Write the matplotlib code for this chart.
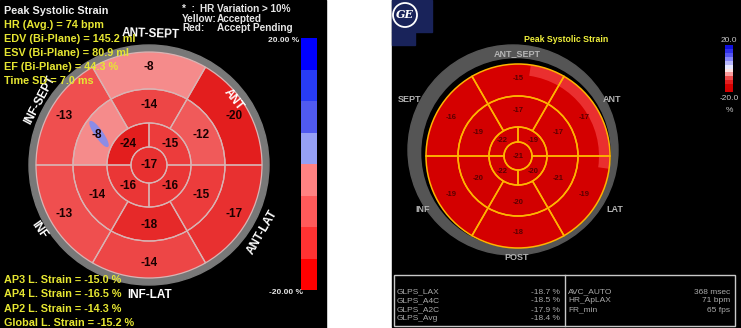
import numpy as np
import matplotlib
matplotlib.use("Agg")
import matplotlib.pyplot as plt
from matplotlib.patches import Wedge, Circle, Rectangle, Ellipse
from matplotlib.colors import LinearSegmentedColormap, ListedColormap, BoundaryNorm, Normalize

plt.rcParams["font.family"] = ["Liberation Sans", "DejaVu Sans"]

# ---- left screen (17-segment bullseye) ----
left_apex = -17
left_apical = [-15, -16, -16, -24]            # upper right, lower right, lower left, upper left
left_mid = [-14, -12, -15, -18, -14, -8]      # top, upper right, lower right, bottom, lower left, upper left
left_basal = [-8, -20, -17, -14, -13, -13]
left_walls = ["ANT-SEPT", "ANT", "ANT-LAT", "INF-LAT", "INF", "INF-SEPT"]
left_title = "Peak Systolic Strain"
left_info = ["HR (Avg.) = 74 bpm", "EDV (Bi-Plane) = 145.2 ml", "ESV (Bi-Plane) = 80.9 ml",
             "EF (Bi-Plane) = 44.3 %", "Time SD = 7.0 ms"]
left_strain = ["AP3 L. Strain = -15.0 %", "AP4 L. Strain = -16.5 %",
               "AP2 L. Strain = -14.3 %", "Global L. Strain = -15.2 %"]
left_legend_keys = ["*  :", "Yellow:", "Red:"]
left_legend_vals = ["HR Variation > 10%", "Accepted", "Accept Pending"]
left_cbar_colors = ["#ff0000", "#ff3232", "#ff5a5a", "#ff8282",
                    "#96a0f5", "#505af0", "#283cf5", "#0000ff"]
cbar_range = [-20, 20]

# ---- right screen (GE) ----
right_apex = -21
right_apical = [-19, -20, -22, -22]
right_mid = [-17, -17, -21, -20, -20, -19]
right_basal = [-15, -17, -19, -18, -19, -16]
right_walls = ["ANT_SEPT", "ANT", "LAT", "POST", "INF", "SEPT"]
right_table_left = [("GLPS_LAX", "-18.7 %"), ("GLPS_A4C", "-18.5 %"),
                    ("GLPS_A2C", "-17.9 %"), ("GLPS_Avg", "-18.4 %")]
right_table_right = [("AVC_AUTO", "368 msec"), ("HR_ApLAX", "71 bpm"), ("FR_min", "65 fps")]

SIX = [90, 30, -30, -90, -150, 150]
FOUR = [45, -45, -135, 135]


def pt(c, r, ang):
    a = np.deg2rad(ang)
    return c[0] + r * np.cos(a), c[1] - r * np.sin(a)


def wedge(c, r, w, a0, a1, **kw):
    # y axis is flipped, so screen angles are mirrored
    return Wedge(c, r, -a1, -a0, width=w, **kw)


def bullseye(ax, c, radii, apex, apical, mid, basal, cmap, norm, edge, lw,
             label_r, fs, tcolor, weight):
    r0, r1, r2, r3 = radii
    segs = [(Circle(c, r0), apex, c)]
    for v, a in zip(apical, FOUR):
        segs.append((wedge(c, r1, r1 - r0, a - 45, a + 45), v, pt(c, label_r[0], a)))
    for v, a in zip(mid, SIX):
        segs.append((wedge(c, r2, r2 - r1, a - 30, a + 30), v, pt(c, label_r[1], a)))
    for v, a in zip(basal, SIX):
        segs.append((wedge(c, r3, r3 - r2, a - 30, a + 30), v, pt(c, label_r[2], a)))
    for p, v, xy in segs:
        p.set_facecolor(cmap(norm(v)))
        p.set_edgecolor("none")
        p.set_zorder(3)
        ax.add_patch(p)
    outlines = [Circle(c, r0)]
    outlines += [wedge(c, r1, r1 - r0, a - 45, a + 45) for a in FOUR]
    outlines += [wedge(c, r, r - rr, a - 30, a + 30) for a in SIX for r, rr in ((r2, r1), (r3, r2))]
    for p in outlines:
        p.set_facecolor("none")
        p.set_edgecolor(edge)
        p.set_linewidth(lw)
        p.set_zorder(5)
        ax.add_patch(p)
    for p, v, xy in segs:
        ax.text(xy[0], xy[1], f"{v}", ha="center", va="center", fontsize=fs,
                color=tcolor, fontweight=weight, zorder=6)


fig = plt.figure(figsize=(7.41, 3.28), dpi=100)
ax = fig.add_axes([0, 0, 1, 1])
ax.set_xlim(0, 741)
ax.set_ylim(328, 0)
ax.axis("off")

ax.add_patch(Rectangle((0, 0), 326, 328, color="black", zorder=0))
ax.add_patch(Rectangle((392, 0), 349, 327, color="black", zorder=0))

# left bullseye
lc = (149, 165)
left_norm = Normalize(*cbar_range)
map_cmap = LinearSegmentedColormap.from_list(
    "strainmap", [(0, "#e31e1e"), (0.125, "#ec3c3c"), (0.2, "#f05a5a"), (0.3, "#f58c8c"),
                  (0.5, "#ffc8c8"), (0.75, "#8c8cf0"), (1, "#0000ff")])
ax.add_patch(Circle(lc, 120, color="#787878", zorder=2))
bullseye(ax, lc, (18, 42, 76, 113), left_apex, left_apical, left_mid, left_basal,
         map_cmap, left_norm, "#d9b4b4", 0.9, (30, 60, 98), 8.5, "#1a0000", "bold")
ax.add_patch(Ellipse((99, 134), 7, 30, angle=-35, color="#8c8ce6", zorder=4))

wall_pos = [(151, 34, -2), (233, 100, -52), (262, 232, 60), (150, 295, 0), (39, 230, -55), (40, 100, 62)]
for name, (x, y, rot) in zip(left_walls, wall_pos):
    ax.text(x, y, name, ha="center", va="center", rotation=rot, fontsize=8.5,
            color="white", fontweight="bold", zorder=7)

ax.text(4, 11, left_title, fontsize=7.8, color="#eeeeee", fontweight="bold", va="center", zorder=8)
for i, s in enumerate(left_info):
    ax.text(4, 25 + 14 * i, s, fontsize=7.8, color="#e6e632", fontweight="bold", va="center", zorder=8)
for i, s in enumerate(left_strain):
    ax.text(4, 280 + 14.3 * i, s, fontsize=7.8, color="#e6e632", fontweight="bold", va="center", zorder=8)
for i, (k, v) in enumerate(zip(left_legend_keys, left_legend_vals)):
    ax.text(182, 9 + 9.5 * i, k, fontsize=7.2, color="#e6e6e6", fontweight="bold", va="center", zorder=8)
    ax.text(200 if i == 0 else 217, 9 + 9.5 * i, v, fontsize=7.2, color="#e6e6e6",
            fontweight="bold", va="center", zorder=8)

# left colour bar
levels = np.linspace(cbar_range[0], cbar_range[1], len(left_cbar_colors) + 1)
bar_cmap = ListedColormap(left_cbar_colors)
bar_norm = BoundaryNorm(levels, bar_cmap.N)
yb = np.linspace(290, 38, len(levels))
ax.pcolormesh([301, 317], yb, levels[:-1].reshape(-1, 1) + 1, cmap=bar_cmap, norm=bar_norm, zorder=3)
ax.text(299, 41, f"{cbar_range[1]:.2f} %", ha="right", va="center", fontsize=6,
        color="#e6e6e6", fontweight="bold")
ax.text(303, 293, f"{cbar_range[0]:.2f} %", ha="right", va="center", fontsize=6,
        color="#e6e6e6", fontweight="bold")

# right bullseye
rc = (518, 156)
right_cmap = LinearSegmentedColormap.from_list(
    "ge", [(0, "#d20000"), (0.15, "#d70000"), (0.3, "#f05050"), (0.42, "#ffc8c8"),
           (0.5, "#ffffff"), (0.6, "#c8c8ff"), (0.8, "#5050f0"), (1, "#0000dc")])
ax.add_patch(Circle((513, 150), 105, color="#555555", zorder=1))
ax.add_patch(Circle((516, 153), 94, color="black", zorder=1))
bullseye(ax, rc, (14, 29, 60, 92), right_apex, right_apical, right_mid, right_basal,
         right_cmap, left_norm, "#ffb400", 1.1, (22, 46, 77), 5.5, "#5a0000", "bold")
ax.add_patch(wedge(rc, 92, 11, -8, 82, color="#f03c3c", alpha=0.8, zorder=4, lw=0))

rwall_pos = [(517, 54), (612, 100), (615, 210), (517, 257), (423, 210), (410, 100)]
for name, (x, y) in zip(right_walls, rwall_pos):
    ax.text(x, y, name, ha="center", va="center", fontsize=6.5, color="#b4b4b4",
            fontweight="bold", zorder=7)
ax.text(566, 40, "Peak Systolic Strain", ha="center", va="center", fontsize=6.3,
        color="#f0f03c", fontweight="bold")

# right colour bar
rl = np.linspace(cbar_range[0], cbar_range[1], 13)
ax.pcolormesh([725, 733], np.linspace(92, 45, 13), ((rl[:-1] + rl[1:]) / 2).reshape(-1, 1),
              cmap=right_cmap, norm=left_norm, zorder=3)
ax.text(729, 40, f"{cbar_range[1]:.1f}", ha="center", va="center", fontsize=6, color="#c8c8c8")
ax.text(729, 99, f"{cbar_range[0]:.1f}", ha="center", va="center", fontsize=6, color="#c8c8c8")
ax.text(729, 110, "%", ha="center", va="center", fontsize=6, color="#c8c8c8")

# GE logo
ax.add_patch(Rectangle((392, 0), 40, 32, color="#19235a", zorder=2))
ax.add_patch(Rectangle((392, 32), 23, 13, color="#19235a", zorder=2))
ax.add_patch(Circle((405, 15), 12, facecolor="#19235a", edgecolor="white", lw=1.3, zorder=3))
ax.text(405, 15, "GE", ha="center", va="center", fontsize=8, color="white",
        fontstyle="italic", fontweight="bold", family="DejaVu Serif", zorder=4)

# measurement table
ax.add_patch(Rectangle((394, 275), 341, 51, facecolor="none", edgecolor="#c8c8c8", lw=1, zorder=3))
ax.plot([565, 565], [275, 326], color="#c8c8c8", lw=1, zorder=3)
for i, (k, v) in enumerate(right_table_left):
    y = 292 + 9 * i
    ax.text(397, y, k, fontsize=6, color="#aaaaaa", va="center")
    ax.text(560, y, v, fontsize=6, color="#aaaaaa", va="center", ha="right")
for i, (k, v) in enumerate(right_table_right):
    y = 292 + 9 * i
    ax.text(568, y, k, fontsize=6, color="#aaaaaa", va="center")
    ax.text(730, y, v, fontsize=6, color="#aaaaaa", va="center", ha="right")

fig.savefig("out.png", dpi=100, facecolor="white")
